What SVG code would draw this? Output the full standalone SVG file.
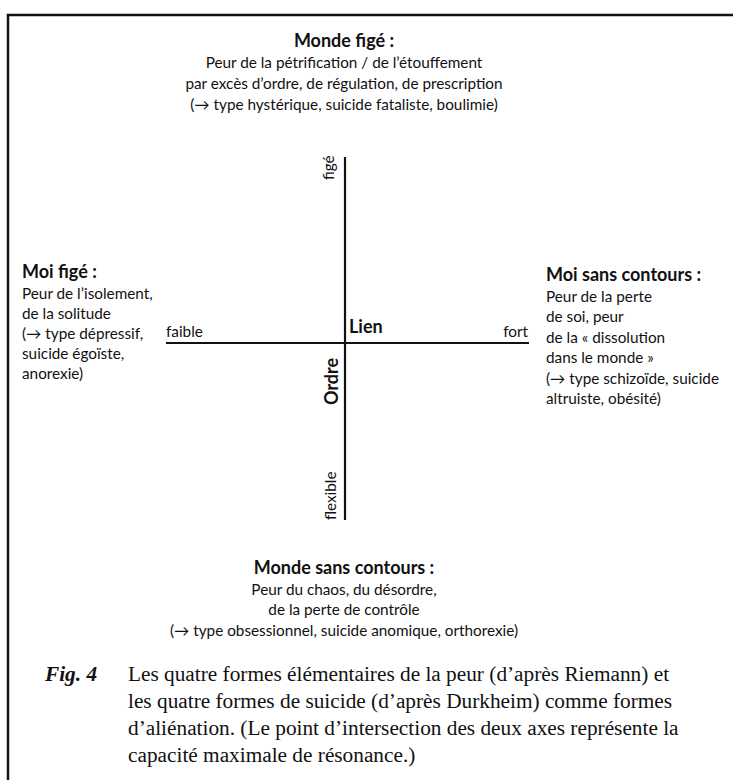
<svg xmlns="http://www.w3.org/2000/svg" width="733" height="780" viewBox="0 0 733 780">
<style>
.t{font-family:Lato,"Open Sans","Noto Sans",sans-serif;font-size:15.3px;fill:#111}
.b{font-weight:bold;font-size:18px}
.c{text-anchor:middle}
.cap{font-family:"Liberation Serif",serif;font-size:21.3px;fill:#111}
.ax{stroke:#111;stroke-width:2.2;fill:none}
</style>
<rect width="733" height="780" fill="#fff"/>
<path d="M8,780 V15 H733" fill="none" stroke="#111" stroke-width="2.5"/>
<g id="connectors">
<line class="ax" x1="166" y1="343" x2="529" y2="343"/>
<line class="ax" x1="345" y1="157" x2="345" y2="520"/>
</g>
<g id="monde-fige">
<text class="t b c" x="344" y="47">Monde figé :</text>
<text class="t c" x="344" y="68">Peur de la pétrification / de l’étouffement</text>
<text class="t c" x="344" y="89">par excès d’ordre, de régulation, de prescription</text>
<text class="t c" x="344" y="110">(→ type hystérique, suicide fataliste, boulimie)</text>
</g>
<g id="moi-fige">
<text class="t b" x="22" y="278">Moi figé :</text>
<text class="t" x="22" y="299">Peur de l’isolement,</text>
<text class="t" x="22" y="319">de la solitude</text>
<text class="t" x="22" y="339">(→ type dépressif,</text>
<text class="t" x="22" y="359">suicide égoïste,</text>
<text class="t" x="22" y="379">anorexie)</text>
</g>
<g id="moi-sans-contours">
<text class="t b" x="546" y="281">Moi sans contours :</text>
<text class="t" x="546" y="302">Peur de la perte</text>
<text class="t" x="546" y="322">de soi, peur</text>
<text class="t" x="546" y="343">de la « dissolution</text>
<text class="t" x="546" y="363">dans le monde »</text>
<text class="t" x="546" y="384">(→ type schizoïde, suicide</text>
<text class="t" x="546" y="404">altruiste, obésité)</text>
</g>
<g id="monde-sans-contours">
<text class="t b c" x="344" y="574">Monde sans contours :</text>
<text class="t c" x="344" y="595">Peur du chaos, du désordre,</text>
<text class="t c" x="344" y="615">de la perte de contrôle</text>
<text class="t c" x="344" y="636">(→ type obsessionnel, suicide anomique, orthorexie)</text>
</g>
<g id="axis-labels">
<text class="t" x="166" y="337">faible</text>
<text class="t" x="528" y="337" text-anchor="end">fort</text>
<text class="t b" x="349" y="333">Lien</text>
<text class="t" transform="translate(334,180) rotate(-90)">figé</text>
<text class="t" transform="translate(336,520) rotate(-90)">flexible</text>
<text class="t b" transform="translate(338,405) rotate(-90)">Ordre</text>
</g>
<g id="caption">
<text class="cap" x="45" y="681" font-style="italic" font-weight="bold">Fig. 4</text>
<text class="cap" x="128" y="681">Les quatre formes élémentaires de la peur (d’après Riemann) et</text>
<text class="cap" x="128" y="708">les quatre formes de suicide (d’après Durkheim) comme formes</text>
<text class="cap" x="128" y="735">d’aliénation. (Le point d’intersection des deux axes représente la</text>
<text class="cap" x="128" y="762">capacité maximale de résonance.)</text>
</g>
</svg>
